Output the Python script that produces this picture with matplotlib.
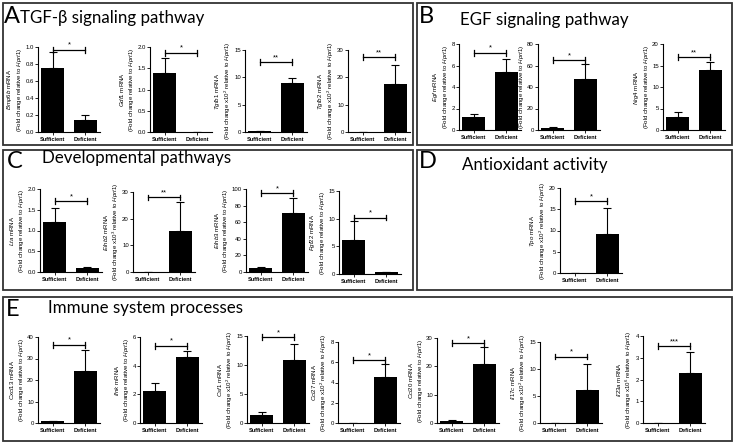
import matplotlib
matplotlib.use("Agg")
import matplotlib.pyplot as plt
from matplotlib.patches import Rectangle

plt.rcParams['font.family'] = ['Liberation Sans', 'DejaVu Sans']
plt.rcParams['mathtext.fontset'] = 'custom'
plt.rcParams['mathtext.rm'] = 'Liberation Sans'
plt.rcParams['mathtext.it'] = 'Liberation Sans:italic'
plt.rcParams['mathtext.bf'] = 'Liberation Sans:bold'

# data (mean and upper error bar length)
groups = ["Sufficient", "Deficient"]
genes = ["Bmp6b", "Gdf1", "Tgfb1", "Tgfb2",
         "Egf", "Igf1", "Nrg4",
         "Lta", "Efnb2", "Efnb3", "Fgf22",
         "Tpo",
         "Cxcl13", "Ifnk", "Csf1", "Ccl27", "Ccl20", "Il17c", "Il23a"]
sufficient = [0.75, 1.38, 0.1, 0.15,
              1.25, 2.0, 3.1,
              1.2, 0.1, 5.0, 6.2,
              0.05,
              1.0, 2.2, 1.3, 0.03, 0.8, 0.05, 0.01]
sufficient_err = [0.19, 0.35, 0, 0,
                  0.25, 0.5, 1.2,
                  0.35, 0, 1.0, 3.4,
                  0,
                  0.1, 0.6, 0.6, 0, 0.1, 0, 0]
deficient = [0.14, 0.01, 9.0, 17.6,
             5.4, 47, 14.0,
             0.1, 15.5, 71, 0.3,
             9.2,
             24.3, 4.6, 10.8, 4.5, 21.0, 6.1, 2.3]
deficient_err = [0.06, 0, 0.9, 6.9,
                 1.25, 14, 1.7,
                 0.03, 10.8, 18, 0.1,
                 6.2,
                 9.5, 0.4, 2.9, 1.3, 5.7, 4.9, 0.95]
y_max = [1.0, 2.0, 15, 30, 8, 80, 20, 2.0, 30, 100, 15, 20,
         40, 6, 15, 8, 30, 15, 4]
y_step = [0.2, 0.5, 5, 10, 2, 20, 5, 0.5, 10, 20, 5, 5,
          10, 2, 5, 2, 10, 5, 1]
stars = ["*", "*", "**", "**", "*", "*", "**", "*", "**", "*", "*", "*",
         "*", "*", "*", "*", "*", "*", "***"]
scale_exp = [0, 0, 2, 2, 0, 0, 0, 0, 3, 0, 0, 2,
             0, 0, 2, 2, 0, 2, 6]
bracket_y = [0.97, 1.87, 12.8, 27.5, 7.2, 65, 17, 1.71, 28, 95, 10.2, 17,
             36.4, 5.4, 14.8, 6.2, 28.2, 12.3, 3.54]

W, H = 735, 445
fig = plt.figure(figsize=(7.35, 4.45), dpi=100)


def fx(x):
    return x / W


def fy(y):
    return 1 - y / H


# panel frames in pixels: left, top, right, bottom
frames = [(3, 3, 413, 145), (417, 3, 732, 145),
          (3, 150, 413, 290), (417, 150, 732, 290),
          (3, 297, 732, 441)]
for l, t, r, b in frames:
    fig.patches.append(Rectangle((fx(l), fy(b)), (r - l) / W, (b - t) / H,
                                 transform=fig.transFigure, fill=False,
                                 ec='#333333', lw=1.3))

head_font = ['Lato', 'DejaVu Sans']
letters = [("A", 4, 6), ("B", 419, 6), ("C", 7, 151), ("D", 419, 151), ("E", 6, 299)]
for s, x, y in letters:
    fig.text(fx(x), fy(y), s, fontsize=17, va='top', ha='left', family=head_font)
titles = [("TGF-β signaling pathway", 20, 10), ("EGF signaling pathway", 460, 12),
          ("Developmental pathways", 42, 150), ("Antioxidant activity", 462, 157),
          ("Immune system processes", 48, 300)]
for s, x, y in titles:
    fig.text(fx(x), fy(y), s, fontsize=12.2, va='top', ha='left', family=head_font)

# axes layout in pixels: left, top, bottom
layout = [(38, 47, 132), (150, 47, 132), (245, 50, 132), (348, 50, 132),
          (459, 44, 130), (538, 44, 130), (663, 44, 130),
          (40, 189, 272), (133, 192, 272), (246, 189, 272), (339, 191, 274),
          (560, 188, 273),
          (38, 337, 423), (140, 337, 423), (247, 336, 423), (338, 342, 423),
          (437, 338, 423), (540, 342, 423), (643, 336, 423)]
ax_w = 62

for i, g in enumerate(genes):
    left, top, bottom = layout[i]
    ax = fig.add_axes([fx(left), fy(bottom), ax_w / W, (bottom - top) / H])
    vals = [sufficient[i], deficient[i]]
    errs = [[0, 0], [sufficient_err[i], deficient_err[i]]]
    ax.bar([0, 1], vals, width=0.7, color='black')
    ax.errorbar([0, 1], vals, yerr=errs, fmt='none', ecolor='black',
                elinewidth=0.8, capsize=3, capthick=0.8)
    ax.set_xlim(-0.45, 1.45)
    ax.set_ylim(0, y_max[i])
    n = int(round(y_max[i] / y_step[i]))
    ticks = [k * y_step[i] for k in range(n + 1)]
    ax.set_yticks(ticks)
    if y_max[i] <= 2:
        ax.set_yticklabels(["%.1f" % t for t in ticks])
    else:
        ax.set_yticklabels(["%d" % round(t) for t in ticks])
    ax.set_xticks([0, 1])
    ax.set_xticklabels(groups, fontweight='bold')
    for side in ['top', 'right']:
        ax.spines[side].set_visible(False)
    for side in ['left', 'bottom']:
        ax.spines[side].set_linewidth(0.8)
    ax.tick_params(axis='y', length=2, width=0.6, pad=1, labelsize=4.3)
    ax.tick_params(axis='x', length=2, width=0.6, pad=1.5, labelsize=4.0)

    if scale_exp[i]:
        second = r"(Fold change x10$^{%d}$ relative to $\mathit{Hprt1}$)" % scale_exp[i]
    else:
        second = r"(Fold change relative to $\mathit{Hprt1}$)"
    ax.set_ylabel(r"$\mathit{%s}$ mRNA" % g + "\n" + second,
                  fontsize=4.4, labelpad=1, linespacing=1.1)

    # significance bracket
    h = bracket_y[i]
    d = 0.035 * y_max[i]
    ax.plot([0, 1], [h, h], color='black', lw=0.9, clip_on=False)
    ax.plot([0, 0], [h - d, h + d], color='black', lw=0.9, clip_on=False)
    ax.plot([1, 1], [h - d, h + d], color='black', lw=0.9, clip_on=False)
    ax.text(0.5, h + 0.01 * y_max[i], stars[i], ha='center', va='bottom',
            fontsize=5.5)

fig.savefig("out.png", dpi=100)
